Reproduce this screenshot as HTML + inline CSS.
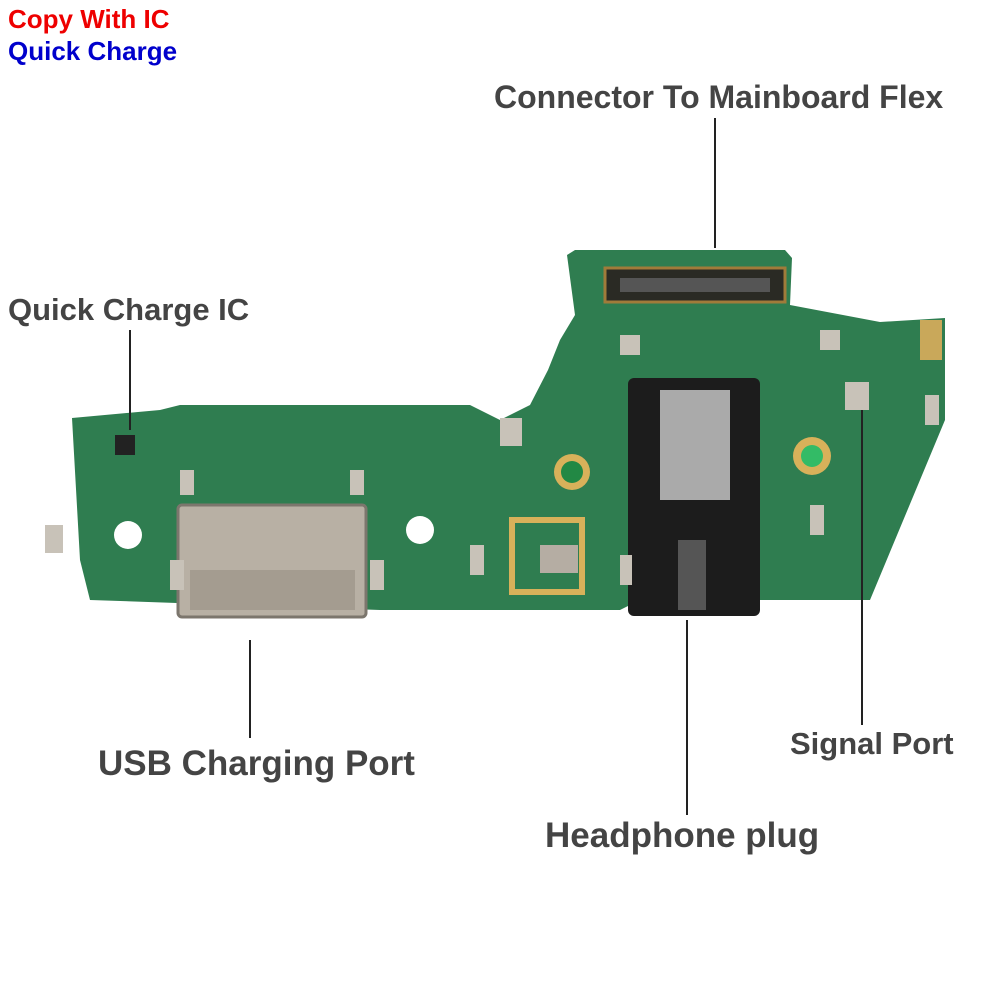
<!DOCTYPE html>
<html><head><meta charset="utf-8"><style>
html,body{margin:0;padding:0;background:#fff;}
.t{position:absolute;font-family:"Liberation Sans",sans-serif;font-weight:bold;color:#444;font-size:31px;white-space:nowrap}
</style></head><body>
<div style="position:relative;width:1000px;height:1000px;overflow:hidden">
<svg width="1000" height="1000" style="position:absolute;left:0;top:0">
<path d="M72,418 L160,410 L180,405 L470,405 L500,420 L530,405 L548,370 L560,340 L575,315 L567,255 L575,250 L785,250 L792,258 L790,305 L880,322 L945,318 L945,420 L870,600 L640,600 L620,610 L380,610 L90,600 L80,560 Z" fill="#2f7d50"/>
<circle cx="128" cy="535" r="14" fill="#fff"/><circle cx="420" cy="530" r="14" fill="#fff"/>
<circle cx="572" cy="472" r="18" fill="#d8b15a"/><circle cx="572" cy="472" r="11" fill="#284"/>
<circle cx="812" cy="456" r="19" fill="#d8b15a"/><circle cx="812" cy="456" r="11" fill="#3b6"/>
<rect x="605" y="268" width="180" height="34" fill="#2a2a24" stroke="#a07b3a" stroke-width="3"/>
<rect x="620" y="278" width="150" height="14" fill="#555"/>
<rect x="178" y="505" width="188" height="112" rx="4" fill="#b8b0a4" stroke="#7c766d" stroke-width="3"/>
<rect x="190" y="570" width="165" height="40" fill="#a49c90"/>
<rect x="628" y="378" width="132" height="238" rx="6" fill="#1c1c1c"/>
<rect x="660" y="390" width="70" height="110" fill="#aaa"/>
<rect x="678" y="540" width="28" height="70" fill="#555"/>
<rect x="512" y="520" width="70" height="72" fill="none" stroke="#d8b15a" stroke-width="6"/>
<rect x="540" y="545" width="38" height="28" fill="#b5ada3"/>
<rect x="920" y="320" width="22" height="40" fill="#c9a85a"/>
<g fill="#c8c2b8"><rect x="180" y="470" width="14" height="25"/><rect x="350" y="470" width="14" height="25"/><rect x="45" y="525" width="18" height="28"/><rect x="170" y="560" width="14" height="30"/><rect x="370" y="560" width="14" height="30"/><rect x="470" y="545" width="14" height="30"/><rect x="620" y="555" width="12" height="30"/><rect x="810" y="505" width="14" height="30"/><rect x="620" y="335" width="20" height="20"/><rect x="820" y="330" width="20" height="20"/><rect x="925" y="395" width="14" height="30"/><rect x="845" y="382" width="24" height="28"/><rect x="500" y="418" width="22" height="28"/></g>
<rect x="115" y="435" width="20" height="20" fill="#222"/>
<g stroke="#222" stroke-width="2"><line x1="715" y1="118" x2="715" y2="248"/><line x1="130" y1="330" x2="130" y2="430"/><line x1="250" y1="640" x2="250" y2="738"/><line x1="687" y1="620" x2="687" y2="815"/><line x1="862" y1="410" x2="862" y2="725"/></g>
</svg>
<div class="t" style="left:8px;top:4px;font-size:26px;color:#e00">Copy With IC</div>
<div class="t" style="left:8px;top:36px;font-size:26px;color:#00c">Quick Charge</div>
<div class="t" style="left:494px;top:79px;font-size:32px">Connector To Mainboard Flex</div>
<div class="t" style="left:8px;top:292px;">Quick Charge IC</div>
<div class="t" style="left:98px;top:744px;font-size:35px">USB Charging Port</div>
<div class="t" style="left:790px;top:726px;font-size:31px">Signal Port</div>
<div class="t" style="left:545px;top:816px;font-size:35px">Headphone plug</div>
</div>
</body></html>
